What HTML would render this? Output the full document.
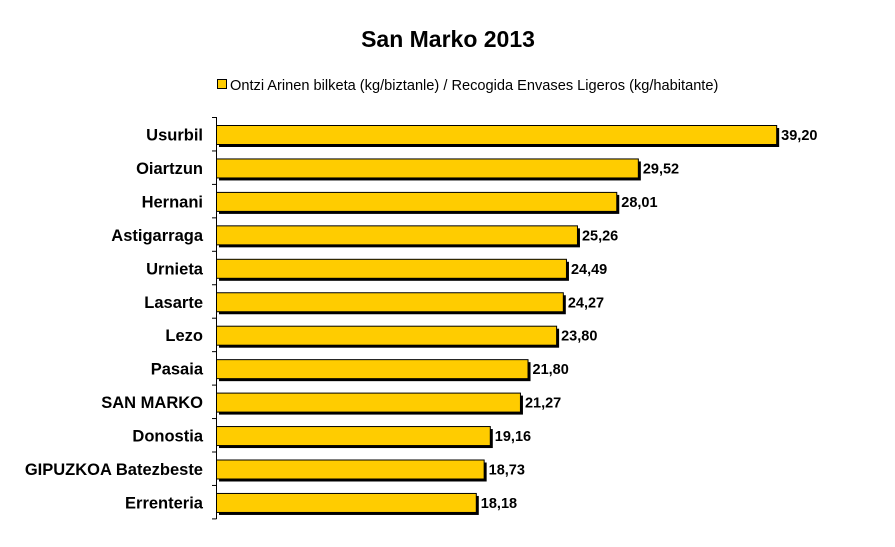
<!DOCTYPE html>
<html><head><style>body{margin:0;background:#fff}svg{display:block}</style></head><body>
<svg width="895" height="547" xmlns="http://www.w3.org/2000/svg" font-family="Liberation Sans, Arial, sans-serif">
<rect width="895" height="547" fill="#fff"/>
<text x="448" y="47" text-anchor="middle" font-size="23" font-weight="bold">San Marko 2013</text>
<rect x="217.5" y="79.5" width="9" height="9" fill="#FFCC00" stroke="#000"/>
<text x="230" y="90" font-size="14.6">Ontzi Arinen bilketa (kg/biztanle) / Recogida Envases Ligeros (kg/habitante)</text>
<line x1="216.5" y1="117" x2="216.5" y2="519" stroke="#000"/>
<g id="bars" font-weight="bold"></g>
</svg>
<script>
(function(){
var d=[["Usurbil",39.20],["Oiartzun",29.52],["Hernani",28.01],["Astigarraga",25.26],["Urnieta",24.49],["Lasarte",24.27],["Lezo",23.80],["Pasaia",21.80],["SAN MARKO",21.27],["Donostia",19.16],["GIPUZKOA Batezbeste",18.73],["Errenteria",18.18]];
var g=document.getElementById('bars'),s='',step=33.45;
for(var i=0;i<d.length;i++){var t=125+i*step,w=d[i][1]*14.29;
s+='<rect x="219" y="'+(t+3)+'" width="'+w+'" height="19" fill="#000"/>';
s+='<rect x="216.5" y="'+(t+0.5)+'" width="'+w+'" height="19" fill="#FFCC00" stroke="#000"/>';
s+='<text x="'+(220+w+1)+'" y="'+(t+15)+'" font-size="14.5">'+d[i][1].toFixed(2).replace('.',',')+'</text>';
s+='<text x="203" y="'+(t+15.5)+'" text-anchor="end" font-size="16.5">'+d[i][0]+'</text>';}
for(var j=0;j<=d.length;j++){var y=117.5+j*step;s+='<line x1="212" y1="'+y+'" x2="216.5" y2="'+y+'" stroke="#000"/>';}
g.innerHTML=s;
})();
</script>
</body></html>
